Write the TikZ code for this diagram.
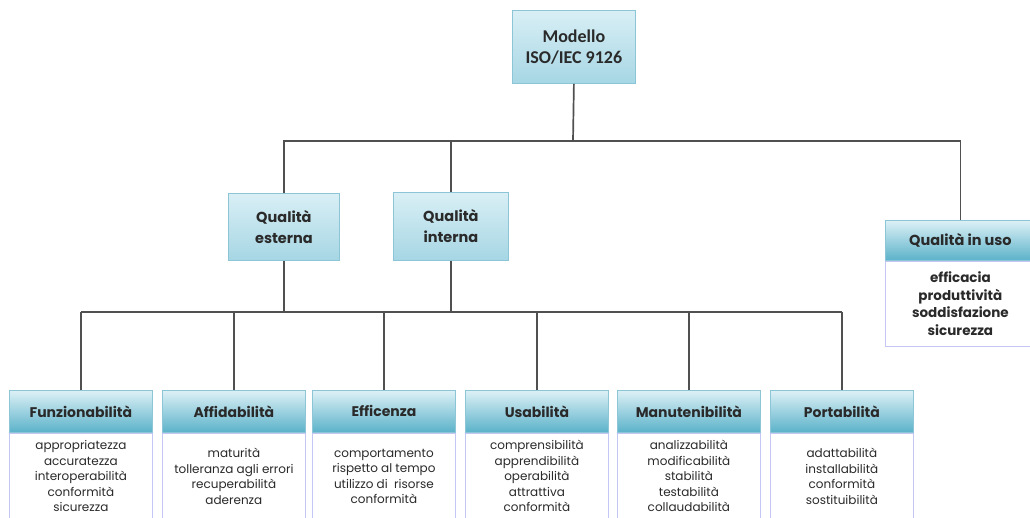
\documentclass[tikz,border=0pt]{standalone}
\usepackage{fontspec}
\setmainfont{Poppins}
\newfontfamily\calibri{Carlito}

\definecolor{linegray}{HTML}{505050}
\definecolor{boxline}{HTML}{8CC6D6}
\definecolor{lightA}{HTML}{D9EFF5}
\definecolor{lightB}{HTML}{A6D6E4}
\definecolor{headB}{HTML}{5BB2C9}
\definecolor{bodyline}{HTML}{C4C6F4}
\definecolor{txt}{HTML}{2A2A2A}

\begin{document}
\begin{tikzpicture}[x=1pt, y=-1pt,
    conn/.style={draw=linegray, line width=1.7pt},
    lightbox/.style={draw=boxline, line width=0.8pt, top color=lightA, bottom color=lightB,
      align=center, text=txt, font=\bfseries\fontsize{14.5}{21}\selectfont, inner sep=0pt},
    head/.style={draw=boxline, line width=0.8pt, top color=lightA!90, bottom color=headB,
      minimum width=143pt, minimum height=42pt, inner sep=0pt, text=txt,
      font=\bfseries\fontsize{14}{15}\selectfont},
    body/.style={draw=bodyline, line width=0.9pt, fill=white, minimum width=143pt,
      minimum height=86pt, inner sep=0pt, align=center, text=txt,
      font=\fontsize{12}{15.5}\selectfont}]
  \useasboundingbox (0,0) rectangle (1030,517);

  % top level
  \node[lightbox, anchor=north west, minimum width=123pt, minimum height=73pt,
    font=\calibri\bfseries\fontsize{18}{21}\selectfont] (modello) at (512,10)
    {Modello\\ISO/IEC 9126};

  % second level
  \node[lightbox, anchor=north west, minimum width=111pt, minimum height=67pt] (esterna)
    at (228,193) {Qualità\\esterna};
  \node[lightbox, anchor=north west, minimum width=115pt, minimum height=68pt] (interna)
    at (393,192) {Qualità\\interna};
  \node[head, anchor=north west, minimum width=150pt, minimum height=40pt,
    font=\bfseries\fontsize{14.5}{15}\selectfont] (inuso) at (885,220) {Qualità in uso};
  \node[body, anchor=north, minimum width=150pt, minimum height=85pt,
    font=\bfseries\fontsize{13.5}{17.5}\selectfont] (inusoitems) at (inuso.south)
    {efficacia\\produttività\\soddisfazione\\sicurezza};

  % third level
  \foreach \i/\x/\name/\items in {
      1/9/Funzionabilità/{appropriatezza\\accuratezza\\interoperabilità\\conformità\\sicurezza},
      2/162/Affidabilità/{maturità\\tolleranza agli errori\\recuperabilità\\aderenza},
      3/312/Efficenza/{comportamento\\rispetto al tempo\\utilizzo di\ \ risorse\\conformità},
      4/465/Usabilità/{comprensibilità\\apprendibilità\\operabilità\\attrattiva\\conformità},
      5/617/Manutenibilità/{analizzabilità\\modificabilità\\stabilità\\testabilità\\collaudabilità},
      6/770/Portabilità/{adattabilità\\installabilità\\conformità\\sostituibilità}}
  {
    \node[head, anchor=north west] (h\i) at (\x,390) {\name};
    \node[body, anchor=north] (b\i) at (h\i.south) {\items};
  }

  % connectors
  \coordinate (topbus) at (573,141);
  \coordinate (lowbus) at (451,312);
  \draw[conn] (modello.south) -- (topbus);
  \draw[conn] (esterna.north) |- (topbus) -| (inuso.north);
  \draw[conn] (interna.north) -- (interna.north |- topbus);
  \draw[conn] (esterna.south) -- (esterna.south |- lowbus);
  \draw[conn] (interna.south) -- (interna.south |- lowbus);
  \draw[conn] (h1.north |- lowbus) -- (h6.north |- lowbus);
  \foreach \i in {1,...,6}
    \draw[conn] (h\i.north) -- (h\i.north |- lowbus);
\end{tikzpicture}
\end{document}
